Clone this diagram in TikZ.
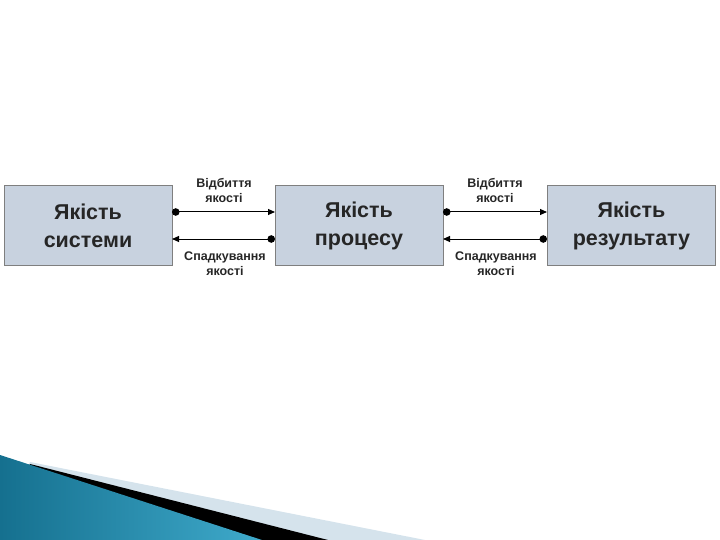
\documentclass[tikz,border=0pt]{standalone}
\usepackage{fontspec}
\setmainfont{Liberation Sans}
\usetikzlibrary{arrows.meta}
\definecolor{boxfill}{HTML}{C8D2DF}
\definecolor{boxline}{HTML}{7F7F7F}
\definecolor{tealdark}{HTML}{15708F}
\definecolor{teallight}{HTML}{3FAACB}
\definecolor{stripe}{HTML}{D5E3EC}
\tikzset{
  qbox/.style={draw=boxline, line width=1pt, fill=boxfill, minimum width=168pt, minimum height=79pt,
    inner sep=0pt, align=center, font=\fontsize{21.5}{28}\selectfont\bfseries, text=black!85},
  lbl/.style={align=center, font=\fontsize{12.5}{15}\selectfont\bfseries, text=black!85, inner sep=0pt},
  conn/.style={line width=1pt, {Circle[length=7.5pt]}-{Triangle[length=7pt,width=6pt]}},
}
\begin{document}
\begin{tikzpicture}[x=1pt,y=-1pt]
\useasboundingbox (0,0) rectangle (720,540);
% bottom decoration
\fill[stripe] (30,462) -- (425,540) -- (0,540) -- cycle;
\fill[black] (30,464) -- (328,540) -- (0,540) -- cycle;
\shade[left color=tealdark, right color=teallight] (0,455) -- (262,540) -- (0,540) -- cycle;
% boxes
\node[qbox] (s) at (88,225.5) {Якість\\системи};
\node[qbox] (p) at (359,225.5) {Якість\\процесу};
\node[qbox] (r) at (631.5,225.5) {Якість\\результату};
% connectors
\coordinate (s1) at (172,212); \coordinate (p1) at (275,212);
\coordinate (s2) at (172,239); \coordinate (p2) at (275,239);
\coordinate (p3) at (443,212); \coordinate (r3) at (547,212);
\coordinate (p4) at (443,239); \coordinate (r4) at (547,239);
\draw[conn] (s1) -- (p1);
\draw[conn] (p2) -- (s2);
\draw[conn] (p3) -- (r3);
\draw[conn] (r4) -- (p4);
% labels
\node[lbl] (l1) at (224,190) {Відбиття\\якості};
\node[lbl] (l2) at (225,263.5) {Спадкування\\якості};
\node[lbl] (l3) at (495,190) {Відбиття\\якості};
\node[lbl] (l4) at (496,263.5) {Спадкування\\якості};
\end{tikzpicture}
\end{document}
